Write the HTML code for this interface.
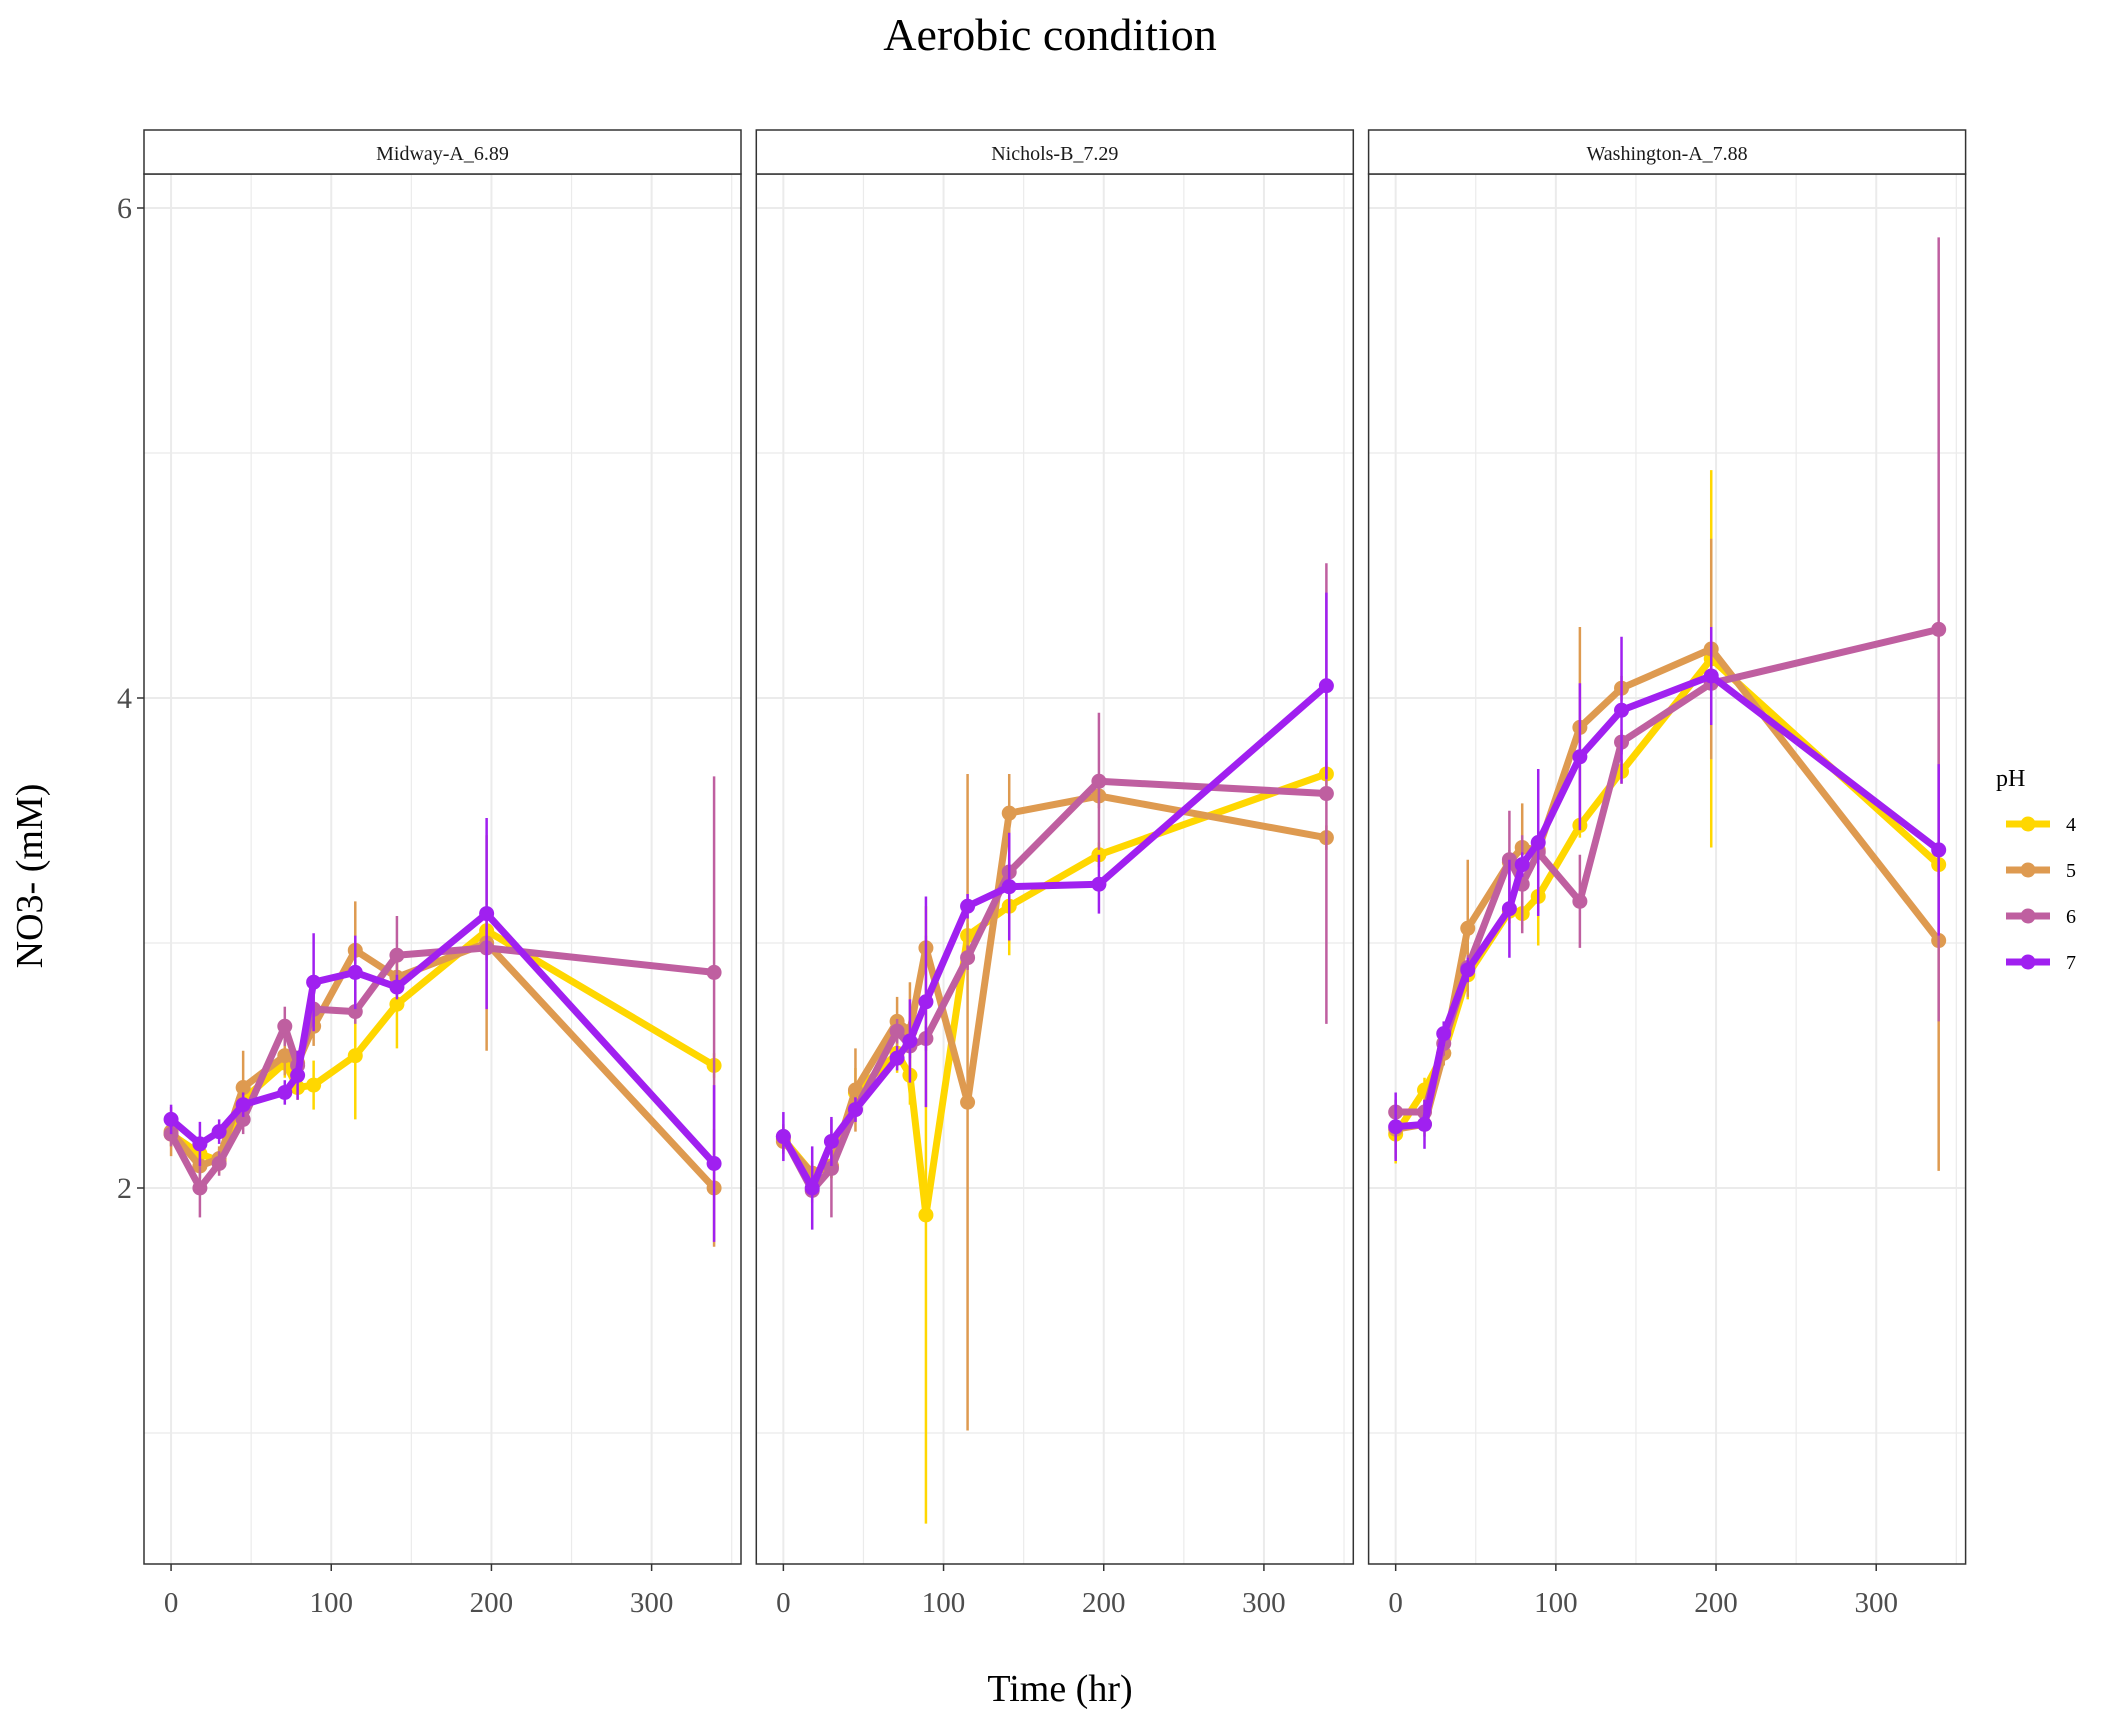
<!DOCTYPE html>
<html><head><meta charset="utf-8"><style>
html,body{margin:0;padding:0;background:#fff}
svg{display:block;font-family:"Liberation Serif",serif}
</style></head><body>
<svg id="chart" width="2112" height="1728" viewBox="0 0 2112 1728" xmlns="http://www.w3.org/2000/svg">
<text x="1050" y="50" font-size="46" text-anchor="middle" fill="#000">Aerobic condition</text>
<text transform="translate(42,876) rotate(-90)" font-size="38" text-anchor="middle" fill="#000">NO3- (mM)</text>
<text x="1060" y="1701" font-size="38" text-anchor="middle" fill="#000">Time (hr)</text>
<g id="panels"></g>
<g id="legend"></g>
</svg>
<script>
const panelNames = ["Midway-A_6.89","Nichols-B_7.29","Washington-A_7.88"];
const times = [0,18,30,45,71,79,89,115,141,197,339];
const seriesNames = ["4","5","6","7"];
const colors = ["#FFD700","#DE9A50","#BF5FA0","#A020F0"];
const yTicks = [2,4,6];
const xTicks = [0,100,200,300];
// panel 1 values
const p1_ph4 = [2.22,2.14,2.11,2.36,2.51,2.41,2.42,2.54,2.75,3.05,2.50];
const p1_ph5 = [2.23,2.09,2.12,2.41,2.54,2.51,2.66,2.97,2.86,3.00,2.00];
const p1_ph6 = [2.22,2.00,2.10,2.28,2.66,2.50,2.73,2.72,2.95,2.98,2.88];
const p1_ph7 = [2.28,2.18,2.23,2.34,2.39,2.46,2.84,2.88,2.82,3.12,2.10];
const p1_e4 = [0.05,0.05,0.05,0.06,0.06,0.05,0.1,0.26,0.18,0.1,0.05];
const p1_e5 = [0.1,0.05,0.05,0.15,0.08,0.05,0.08,0.2,0.06,0.44,0.24];
const p1_e6 = [0.05,0.12,0.05,0.06,0.08,0.06,0.06,0.05,0.16,0.05,0.8];
const p1_e7 = [0.06,0.09,0.05,0.05,0.05,0.1,0.2,0.15,0.05,0.39,0.32];
// panel 2 values
const p2_ph4 = [2.20,2.06,2.09,2.39,2.55,2.46,1.89,3.03,3.15,3.36,3.69];
const p2_ph5 = [2.19,2.06,2.09,2.40,2.68,2.64,2.98,2.35,3.53,3.60,3.43];
const p2_ph6 = [2.21,1.99,2.08,2.32,2.64,2.58,2.61,2.94,3.29,3.66,3.61];
const p2_ph7 = [2.21,2.00,2.19,2.32,2.53,2.60,2.76,3.15,3.23,3.24,4.05];
const p2_e4 = [0.05,0.05,0.05,0.1,0.08,0.12,1.26,0.05,0.2,0.05,0.05];
const p2_e5 = [0.05,0.05,0.05,0.17,0.1,0.2,0.05,1.34,0.16,0.05,0.05];
const p2_e6 = [0.05,0.05,0.2,0.05,0.05,0.05,0.05,0.05,0.05,0.28,0.94];
const p2_e7 = [0.1,0.17,0.1,0.05,0.05,0.17,0.43,0.05,0.22,0.12,0.38];
// panel 3 values
const p3_ph4 = [2.22,2.40,2.55,2.87,3.13,3.12,3.19,3.48,3.70,4.16,3.32];
const p3_ph5 = [2.24,2.26,2.55,3.06,3.33,3.39,3.38,3.88,4.04,4.20,3.01];
const p3_ph6 = [2.31,2.31,2.59,2.90,3.34,3.24,3.37,3.17,3.82,4.06,4.28];
const p3_ph7 = [2.25,2.26,2.63,2.89,3.14,3.32,3.41,3.76,3.95,4.09,3.38];
const p3_e4 = [0.12,0.05,0.05,0.1,0.05,0.05,0.2,0.05,0.05,0.77,0.05];
const p3_e5 = [0.12,0.05,0.05,0.28,0.05,0.18,0.05,0.41,0.05,0.45,0.94];
const p3_e6 = [0.05,0.05,0.05,0.05,0.2,0.2,0.05,0.19,0.05,0.05,1.6];
const p3_e7 = [0.14,0.1,0.05,0.05,0.2,0.05,0.3,0.3,0.3,0.2,0.35];

const panelData = [[p1_ph4,p1_ph5,p1_ph6,p1_ph7],[p2_ph4,p2_ph5,p2_ph6,p2_ph7],[p3_ph4,p3_ph5,p3_ph6,p3_ph7]];
const panelErr = [[p1_e4,p1_e5,p1_e6,p1_e7],[p2_e4,p2_e5,p2_e6,p2_e7],[p3_e4,p3_e5,p3_e6,p3_e7]];

const NS = "http://www.w3.org/2000/svg";
const panelLeft0 = 144, panelW = 597, panelStep = 612.3;
const plotTop = 174, plotBottom = 1564, stripTop = 130;
const xMin = -16.9, xMax = 355.8;
const yScale = v => 1188 - (v - 2) * 245;
function mk(tag, attrs, parent){const e=document.createElementNS(NS,tag);for(const k in attrs)e.setAttribute(k,attrs[k]);parent.appendChild(e);return e;}
const root = document.getElementById("panels");

panelNames.forEach((pname, pi) => {
  const L = panelLeft0 + pi * panelStep;
  const xScale = t => L + (t - xMin) / (xMax - xMin) * panelW;
  const g = mk("g", {}, root);
  
  
  for (let v = 1; v <= 6; v += 1) {
    if (v % 2 === 1) { const y = yScale(v); if (y > plotTop && y < plotBottom) { const ln = mk("line",{x1:L,x2:L+panelW,y1:y,y2:y,stroke:"#EBEBEB","stroke-width":1.2},g);   } }
  }
  for (let t = 50; t <= 350; t += 100) { const x = xScale(t); const ln = mk("line",{x1:x,x2:x,y1:plotTop,y2:plotBottom,stroke:"#EBEBEB","stroke-width":1.2},g);   }
  yTicks.forEach(v => { const y = yScale(v); const ln = mk("line",{x1:L,x2:L+panelW,y1:y,y2:y,stroke:"#EBEBEB","stroke-width":2},g);   });
  xTicks.forEach(t => { const x = xScale(t); const ln = mk("line",{x1:x,x2:x,y1:plotTop,y2:plotBottom,stroke:"#EBEBEB","stroke-width":2},g);  
    const tk = mk("line",{x1:x,x2:x,y1:plotBottom,y2:plotBottom+7,stroke:"#333","stroke-width":1.5},g);  
    const lb = mk("text",{x:x,y:plotBottom+48,"font-size":29,"text-anchor":"middle",fill:"#4D4D4D"},g); lb.textContent = t;   });
  if (pi === 0) {
    yTicks.forEach(v => { const y = yScale(v);
      const tk = mk("line",{x1:L-7,x2:L,y1:y,y2:y,stroke:"#333","stroke-width":1.5},g);  
      const lb = mk("text",{x:L-12,y:y+10,"font-size":30,"text-anchor":"end",fill:"#4D4D4D"},g); lb.textContent = v;   });
  }
  panelData[pi].forEach((vals, si) => {
    const sg = mk("g", {}, g);
    
    
    const errs = panelErr[pi][si];
    vals.forEach((v, i) => { const x = xScale(times[i]);
      const eb = mk("line",{x1:x,x2:x,y1:yScale(v+errs[i]),y2:yScale(v-errs[i]),stroke:colors[si],"stroke-width":2.5},sg);
        });
    const pts = vals.map((v, i) => xScale(times[i]) + "," + yScale(v)).join(" ");
    const pl = mk("polyline",{points:pts,fill:"none",stroke:colors[si],"stroke-width":7,"stroke-linejoin":"round"},sg);
     
    vals.forEach((v, i) => { const c = mk("circle",{cx:xScale(times[i]),cy:yScale(v),r:7.5,fill:colors[si]},sg);
        });
  });
  const br = mk("rect",{x:L,y:plotTop,width:panelW,height:plotBottom-plotTop,fill:"none",stroke:"#333","stroke-width":1.5},g);
   
  const st = mk("rect",{x:L,y:stripTop,width:panelW,height:plotTop-stripTop,fill:"#fff",stroke:"#333","stroke-width":1.5},g);
   
  const stt = mk("text",{x:L+panelW/2,y:stripTop+30,"font-size":20,"text-anchor":"middle",fill:"#1A1A1A"},g);
  stt.textContent = pname;  
});

const lg = document.getElementById("legend");
const lt = mk("text",{x:1996,y:786,"font-size":24,fill:"#000"},lg);
lt.textContent = "pH";  
seriesNames.forEach((s, i) => {
  const y = 824 + i * 46;
  const e = mk("g", {}, lg);
  
  
  mk("line",{x1:2006,x2:2050,y1:y,y2:y,stroke:colors[i],"stroke-width":7},e);
  mk("circle",{cx:2028,cy:y,r:7.5,fill:colors[i]},e);
  const t = mk("text",{x:2066,y:y+7,"font-size":20,fill:"#000"},e); t.textContent = s;
});
</script>
</body></html>
